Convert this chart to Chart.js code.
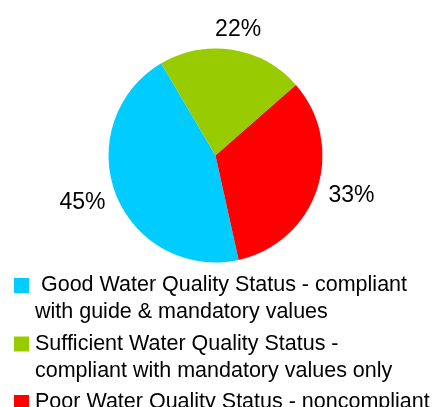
<!DOCTYPE html>
<html>
<head>
<meta charset="utf-8">
<script src="https://cdn.jsdelivr.net/npm/chart.js@4.4.0/dist/chart.umd.min.js"></script>
<style>
    html, body { margin: 0; padding: 0; background: #fff; overflow: hidden; }
    #wrap { width: 432px; height: 407px; position: relative; }
</style>
</head>
<body>
<div id="wrap"><canvas id="qualityPie"></canvas></div>
<script>
// chart data
const statusLabels = [
    [' Good Water Quality Status - compliant', 'with guide & mandatory values'],
    ['Sufficient Water Quality Status -', 'compliant with mandatory values only'],
    ['Poor Water Quality Status - noncompliant']
];
const statusShares = [45, 22, 33];
const statusColors = ['#00CCFF', '#99CC00', '#FF0000'];

const LABEL_FONT = '23px "Liberation Sans", Arial, sans-serif';
const LEGEND_FONT = '21.5px "Liberation Sans", Arial, sans-serif';

// percentage labels placed just outside each slice
const outsideLabels = {
    id: 'outsideLabels',
    afterDatasetsDraw(chart) {
        const ctx = chart.ctx;
        const meta = chart.getDatasetMeta(0);
        ctx.save();
        ctx.font = LABEL_FONT;
        ctx.fillStyle = '#000';
        ctx.textAlign = 'center';
        ctx.textBaseline = 'alphabetic';
        meta.data.forEach((arc, i) => {
            const p = arc.getProps(['x', 'y', 'startAngle', 'endAngle', 'outerRadius'], true);
            const mid = (p.startAngle + p.endAngle) / 2;
            const text = statusShares[i] + '%';
            const w = ctx.measureText(text).width;
            const capH = 16;
            const r = p.outerRadius + 13;
            const cx = p.x + Math.cos(mid) * r + Math.cos(mid) * w / 2;
            const cy = p.y + Math.sin(mid) * r + Math.sin(mid) * capH / 2;
            ctx.fillText(text, cx, cy + capH / 2 - 1);
        });
        ctx.restore();
    }
};

// legend drawn under the pie, with wrapped lines
const wrappedLegend = {
    id: 'wrappedLegend',
    afterDraw(chart) {
        const ctx = chart.ctx;
        ctx.save();
        ctx.font = LEGEND_FONT;
        ctx.textBaseline = 'alphabetic';
        let top = 275;
        statusLabels.forEach((lines, i) => {
            ctx.fillStyle = statusColors[i];
            ctx.fillRect(14, top + 3, 15, 15);
            ctx.fillStyle = '#000';
            lines.forEach((line, j) => {
                ctx.fillText(line, 35, top + 16 + j * 27);
            });
            top += 58.5;
        });
        ctx.restore();
    }
};

const ctx = document.getElementById('qualityPie');

const qualityPieConfig = {
    type: 'pie',
    data: {
        labels: statusLabels,
        datasets: [{
            data: statusShares,
            backgroundColor: statusColors,
            borderWidth: 0
        }]
    },
    options: {
        responsive: false,
        animation: false,
        rotation: 167.5,
        radius: 107,
        layout: {
            padding: { top: 0, left: 0, right: 1, bottom: 96 }
        },
        plugins: {
            legend: { display: false },
            tooltip: { enabled: false }
        }
    },
    plugins: [outsideLabels, wrappedLegend]
};

ctx.width = 432;
ctx.height = 407;
const qualityPieChart = new Chart(ctx, qualityPieConfig);
</script>
</body>
</html>
